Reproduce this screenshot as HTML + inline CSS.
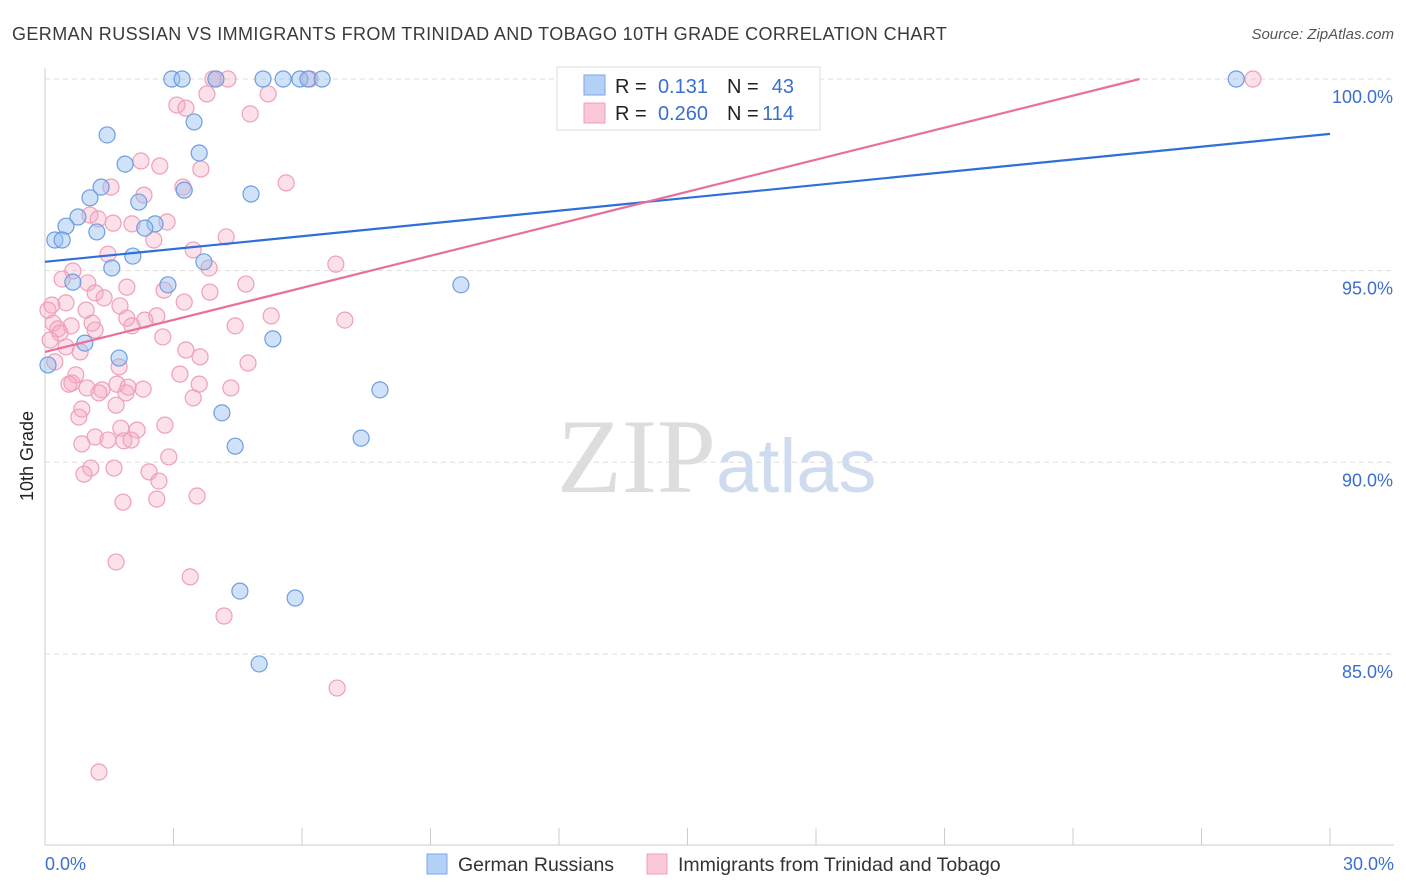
<!DOCTYPE html>
<html><head><meta charset="utf-8"><style>
body{margin:0;background:#fff;font-family:"Liberation Sans",sans-serif}
svg{display:block}
</style></head><body>
<svg id="chart" width="1406" height="892">
<text x="12" y="40" font-size="18" fill="#3a3a3a" letter-spacing="0.4">GERMAN RUSSIAN VS IMMIGRANTS FROM TRINIDAD AND TOBAGO 10TH GRADE CORRELATION CHART</text>
<text x="1394" y="39" font-size="15" fill="#555" font-style="italic" text-anchor="end">Source: ZipAtlas.com</text>
<text x="0" y="0" font-size="18" fill="#222" transform="translate(33,456) rotate(-90)" text-anchor="middle">10th Grade</text>
<g id="grid"></g>
<text x="716" y="492" font-size="106" fill="#ddd" font-family="Liberation Serif" text-anchor="end">ZIP</text>
<text x="716" y="492" font-size="76" fill="#cfdcf0">atlas</text>
<g id="marks"></g>
<g>
<rect x="557" y="67" width="263" height="63" fill="#fff" stroke="#ddd"/>
<rect x="584" y="75" width="21" height="20" fill="#b4d0f5" stroke="#7aa6e6"/>
<rect x="584" y="103" width="21" height="20" fill="#fac8d6" stroke="#eea0b8"/>
<text x="615" y="93" font-size="20" fill="#222">R =</text><text x="708" y="93" font-size="20" fill="#3a6fd0" text-anchor="end">0.131</text>
<text x="727" y="93" font-size="20" fill="#222">N =</text><text x="794" y="93" font-size="20" fill="#3a6fd0" text-anchor="end">43</text>
<text x="615" y="120" font-size="20" fill="#222">R =</text><text x="708" y="120" font-size="20" fill="#3a6fd0" text-anchor="end">0.260</text>
<text x="727" y="120" font-size="20" fill="#222">N =</text><text x="794" y="120" font-size="20" fill="#3a6fd0" text-anchor="end">114</text>
</g>
<g>
<rect x="427" y="854" width="20" height="20" fill="#b4d0f5" stroke="#7aa6e6"/>
<text x="458" y="871" font-size="19.5" fill="#333">German Russians</text>
<rect x="647" y="854" width="20" height="20" fill="#fac8d6" stroke="#eea0b8"/>
<text x="678" y="871" font-size="19.5" fill="#333">Immigrants from Trinidad and Tobago</text>
</g>
</svg>
<script>
const yTicks=[100,95,90,85];
const xTickLabels=["0.0%","30.0%"];
const blueX=[2.96,3.20,3.99,5.09,5.56,5.95,6.14,6.47,12.49,27.81,1.45,3.48,1.87,3.60,1.31,3.25,4.81,1.05,2.19,0.77,0.49,2.57,2.33,1.21,0.23,0.40,2.05,3.71,1.56,0.65,2.87,9.71,0.93,5.32,1.73,0.07,7.82,4.13,7.38,4.44,4.55,5.84,5.00];
const blueY=[100,100,100,100,100,100,100,100,100,100,98.54,98.88,97.78,98.07,97.18,97.10,97.0,96.90,96.79,96.40,96.16,96.22,96.11,96.01,95.80,95.80,95.38,95.23,95.07,94.70,94.63,94.63,93.11,93.22,92.72,92.54,91.89,91.29,90.63,90.42,86.64,86.46,84.74];
const pinkX=[3.99,4.27,3.92,6.19,28.20,3.78,5.21,3.08,3.29,4.79,2.24,2.68,3.64,5.63,1.54,3.22,2.31,1.05,1.24,1.59,2.85,2.03,2.54,4.23,3.46,1.47,6.79,3.83,0.65,0.40,1.00,4.69,1.91,1.17,2.78,3.85,1.38,3.25,0.49,1.75,0.16,0.07,0.96,5.28,1.91,2.61,2.33,7.00,4.44,0.19,1.10,0.61,0.30,2.03,0.35,1.17,2.75,0.12,0.49,3.29,0.82,3.62,4.74,0.23,1.73,0.72,3.15,0.63,0.56,0.98,1.68,1.94,3.60,4.34,1.33,1.26,2.29,3.46,1.89,1.66,0.86,0.79,2.80,1.77,2.15,1.17,1.47,1.84,2.01,0.86,2.89,2.43,1.07,0.91,1.61,2.66,3.55,2.61,1.82,1.66,3.39,4.18,6.82,1.26];
const pinkY=[100,100,100,100,100,99.61,99.61,99.32,99.24,99.09,97.86,97.73,97.65,97.29,97.18,97.18,96.97,96.45,96.35,96.24,96.27,96.22,95.80,95.88,95.54,95.43,95.17,95.07,94.99,94.78,94.68,94.65,94.57,94.42,94.49,94.44,94.29,94.18,94.16,94.08,94.10,93.97,93.97,93.82,93.76,93.82,93.71,93.71,93.56,93.63,93.63,93.56,93.48,93.56,93.37,93.45,93.27,93.19,93.01,92.93,92.88,92.75,92.59,92.62,92.49,92.28,92.30,92.07,92.04,91.94,92.04,91.96,92.04,91.94,91.89,91.81,91.91,91.68,91.81,91.49,91.39,91.18,90.97,90.89,90.84,90.66,90.58,90.56,90.58,90.48,90.14,89.75,89.85,89.69,89.85,89.51,89.12,89.04,88.96,87.40,87.01,85.99,84.11,81.92];
const blueFit=[95.23,0.1113];
const pinkFit=[92.88,0.2786];
const sx=v=>45+v/30*1285;
const sy=v=>79+(100-v)*38.33;
const NS="http://www.w3.org/2000/svg";
function mk(p,t,a){const e=document.createElementNS(NS,t);for(const k in a)e.setAttribute(k,a[k]);p.appendChild(e);return e;}
const grid=document.getElementById('grid');
const marks=document.getElementById('marks');
mk(grid,'line',{x1:45,y1:68,x2:45,y2:845,stroke:'#ccc'});
mk(grid,'line',{x1:45,y1:845,x2:1394,y2:845,stroke:'#ccc'});
for(let i=0;i<=10;i++){const l=mk(grid,'line',{x1:45+i*128.5,y1:828,x2:45+i*128.5,y2:845,stroke:'#ccc'});

}
yTicks.forEach(t=>{const l=mk(grid,'line',{x1:45,y1:sy(t),x2:1394,y2:sy(t),stroke:'#ddd','stroke-dasharray':'5,4'});


const tx=mk(grid,'text',{x:1393,y:sy(t)+24,'font-size':18,fill:'#3a6fd0','text-anchor':'end'});tx.textContent=t.toFixed(1)+'%';

});
const x0=mk(grid,'text',{x:45,y:870,'font-size':18,fill:'#3a6fd0'});x0.textContent=xTickLabels[0];


const x1=mk(grid,'text',{x:1394,y:870,'font-size':18,fill:'#3a6fd0','text-anchor':'end'});x1.textContent=xTickLabels[1];


pinkX.forEach((x,i)=>{const c=mk(marks,'circle',{cx:sx(x),cy:sy(pinkY[i]),r:8,fill:'rgba(246,170,195,0.35)',stroke:'#eea0b8','stroke-width':1.2});

});
blueX.forEach((x,i)=>{const c=mk(marks,'circle',{cx:sx(x),cy:sy(blueY[i]),r:8,fill:'rgba(150,190,240,0.45)',stroke:'#6e9ee0','stroke-width':1.2});

});
const bl=mk(marks,'line',{x1:sx(0),y1:sy(blueFit[0]),x2:sx(30),y2:sy(blueFit[0]+30*blueFit[1]),stroke:'#2f6fd6','stroke-width':2.2});


const xe=(100-pinkFit[0])/pinkFit[1];
const pl=mk(marks,'line',{x1:sx(0),y1:sy(pinkFit[0]),x2:sx(xe),y2:sy(100),stroke:'#e8709a','stroke-width':2.2});


</script>
</body></html>
